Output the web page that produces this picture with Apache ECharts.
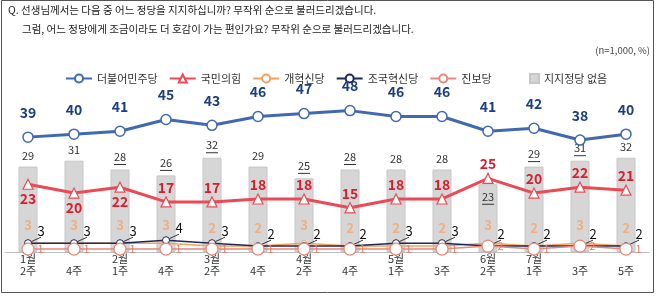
<!DOCTYPE html>
<html>
<head>
<meta charset="utf-8">
<script src="https://cdn.jsdelivr.net/npm/echarts@6/dist/echarts.min.js"></script>
<style>
  html, body { margin: 0; padding: 0; background: #fff; }
  #chart { width: 658px; height: 296px; }
</style>
</head>
<body>
<div id="chart"></div>
<script>
// 조사 시점
const weeks = ['1월 2주', '1월 4주', '2월 1주', '2월 4주', '3월 2주', '3월 4주', '4월 2주',
  '4월 4주', '5월 1주', '5월 3주', '6월 2주', '7월 1주', '7월 3주', '7월 5주'];
const showMonth = [true, false, true, false, true, false, true, false, true, false, true, true, false, false];

// 정당 지지도 (%)
const democratic = [39, 40, 41, 45, 43, 46, 47, 48, 46, 46, 41, 42, 38, 40];
const ppp = [23, 20, 22, 17, 17, 18, 18, 15, 18, 18, 25, 20, 22, 21];
const reform = [3, 3, 3, 3, 2, 2, 3, 2, 2, 2, 3, 2, 3, 2];
const rebuilding = [3, 3, 3, 4, 3, 2, 2, 2, 3, 3, 2, 2, 2, 2];
const progressive = [1, 1, 1, 1, 1, 1, 1, 1, 1, 1, 2, 1, 2, 1];
const noParty = [29, 31, 28, 26, 32, 29, 25, 28, 28, 28, 23, 29, 31, 32];
const noPartyUnderlined = [false, false, true, true, true, false, true, true, false, false, true, true, true, false];

const FONT = 'Noto Sans CJK KR';
const chart = echarts.init(document.getElementById('chart'));

const option = {
  animation: false,
  textStyle: { fontFamily: FONT },
  graphic: [
    {
      type: 'rect',
      shape: { x: 1.5, y: 0.5, width: 652, height: 292 },
      style: { fill: 'none', stroke: '#555', lineWidth: 1 }
    },
    {
      type: 'text', left: 8, top: 5,
      style: { text: 'Q. 선생님께서는 다음 중 어느 정당을 지지하십니까? 무작위 순으로 불러드리겠습니다.', font: '10.5px "Noto Sans CJK KR"', fill: '#222' }
    },
    {
      type: 'text', left: 22, top: 24,
      style: { text: '그럼, 어느 정당에게 조금이라도 더 호감이 가는 편인가요? 무작위 순으로 불러드리겠습니다.', font: '10.5px "Noto Sans CJK KR"', fill: '#222' }
    },
    {
      type: 'text', right: 8, top: 46,
      style: { text: '(n=1,000, %)', font: '9.5px "Noto Sans CJK KR"', fill: '#444' }
    }
  ],
  legend: [
    {
      left: 60, top: 68,
      itemWidth: 26, itemHeight: 10, itemGap: 11,
      textStyle: { fontSize: 11, color: '#333', fontFamily: FONT },
      data: ['더불어민주당', '국민의힘', '개혁신당', '조국혁신당', '진보당']
    },
    {
      left: 524, top: 68,
      itemWidth: 9, itemHeight: 9,
      textStyle: { fontSize: 11, color: '#333', fontFamily: FONT },
      data: [{ name: '지지정당 없음', icon: 'rect' }]
    }
  ],
  grid: { left: 5, right: 9, top: 90, bottom: 44 },
  xAxis: {
    type: 'category',
    data: weeks,
    axisLine: { lineStyle: { color: '#bdbdbd', width: 1 } },
    axisTick: { show: false },
    axisLabel: {
      margin: 1, fontSize: 11, lineHeight: 12, color: '#333', interval: 0,
      formatter: (v, i) => {
        const parts = v.split(' ');
        return (showMonth[i] ? parts[0] : '') + '\n' + parts[1];
      }
    }
  },
  yAxis: { type: 'value', min: 0, max: 55, show: false, splitLine: { show: false } },
  series: [
    {
      name: '지지정당 없음',
      type: 'bar',
      data: noParty.map((v, i) => i === 10 ? { value: v, label: { position: 'insideTop', distance: 6 } } : v),
      barWidth: 19,
      itemStyle: { color: '#d6d6d6', borderColor: '#c6c6c6', borderWidth: 1 },
      z: 1,
      label: {
        show: true, position: 'top', distance: 4,
        formatter: p => noPartyUnderlined[p.dataIndex] ? '{v|' + p.value + '}\n{u|}' : '{v|' + p.value + '}',
        rich: {
          v: { fontSize: 11, color: '#333', lineHeight: 13, fontFamily: FONT },
          u: { width: 12, height: 1, lineHeight: 2, backgroundColor: '#333' }
        }
      }
    },
    {
      name: '진보당',
      type: 'line',
      data: progressive,
      symbol: 'circle', symbolSize: 12,
      lineStyle: { color: '#e8877a', width: 1.5 },
      itemStyle: { color: '#fff', borderColor: '#e8877a', borderWidth: 1.2 },
      label: { show: true, position: 'right', distance: 3, fontSize: 11, color: '#e07b6a' },
      z: 5
    },
    {
      name: '개혁신당',
      type: 'line',
      data: reform,
      symbol: 'circle', symbolSize: 5,
      lineStyle: { color: '#f3a15e', width: 1.5 },
      itemStyle: { color: '#fff', borderColor: '#f3a15e', borderWidth: 1 },
      label: { show: true, position: 'top', distance: 9, fontSize: 13, fontWeight: 'bold', color: '#f2ae7c' },
      z: 3
    },
    {
      name: '조국혁신당',
      type: 'line',
      data: rebuilding,
      symbol: 'circle', symbolSize: 7,
      lineStyle: { color: '#1c2957', width: 1.5 },
      itemStyle: { color: '#fff', borderColor: '#1c2957', borderWidth: 1 },
      label: { show: true, position: 'top', distance: 4, fontSize: 13, color: '#111' },
      labelLayout: { dx: 13, dy: 2 },
      labelLine: { show: true, lineStyle: { color: '#333', width: 1 } },
      z: 4
    },
    {
      name: '국민의힘',
      type: 'line',
      data: ppp.map((v, i) => i < 3 ? { value: v, label: { position: 'bottom' } } : v),
      symbol: 'triangle', symbolSize: 10,
      lineStyle: { color: '#ec4955', width: 3 },
      itemStyle: { color: '#fff', borderColor: '#ec4955', borderWidth: 1.2 },
      label: { show: true, position: 'top', distance: 2, fontSize: 14, fontWeight: 'bold', color: '#d7202f' },
      z: 6
    },
    {
      name: '더불어민주당',
      type: 'line',
      data: democratic,
      symbol: 'circle', symbolSize: 10,
      lineStyle: { color: '#4069b2', width: 3 },
      itemStyle: { color: '#fff', borderColor: '#4069b2', borderWidth: 1.5 },
      label: { show: true, position: 'top', distance: 12, fontSize: 14, fontWeight: 'bold', color: '#1d3f7c' },
      z: 7
    }
  ]
};

chart.setOption(option);
</script>
</body>
</html>
